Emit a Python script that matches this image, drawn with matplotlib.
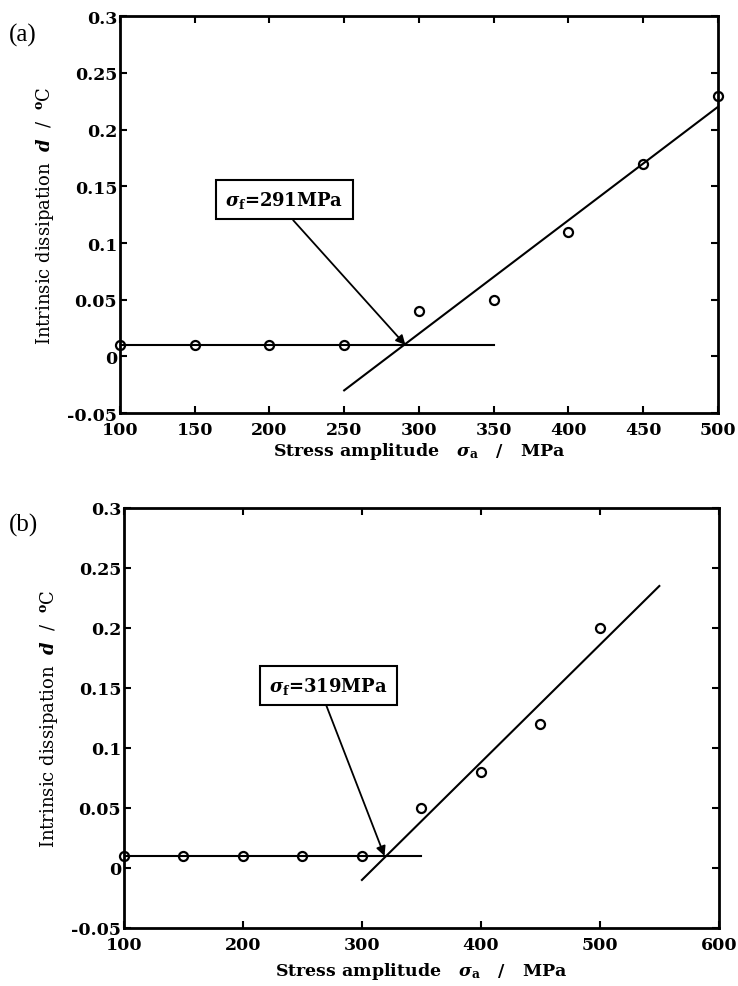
import matplotlib
matplotlib.use('Agg')
import matplotlib.pyplot as plt
from matplotlib.ticker import FormatStrFormatter

plt.rcParams['font.family'] = 'DejaVu Serif'
plt.rcParams['mathtext.fontset'] = 'custom'
plt.rcParams['mathtext.rm'] = 'DejaVu Serif'
plt.rcParams['mathtext.it'] = 'DejaVu Serif:italic:bold'
plt.rcParams['mathtext.bf'] = 'DejaVu Serif:bold'
plt.rcParams['axes.unicode_minus'] = False

# --- dados (a) ---
x_a = [100, 150, 200, 250, 300, 350, 400, 450, 500]
y_a = [0.01, 0.01, 0.01, 0.01, 0.04, 0.05, 0.11, 0.17, 0.23]
horiz_a_x = [100, 350]
horiz_a_y = [0.01, 0.01]
fit_a_x = [250, 500]
fit_a_y = [-0.03, 0.22]
sigma_a = 291

# --- dados (b) ---
x_b = [100, 150, 200, 250, 300, 350, 400, 450, 500]
y_b = [0.01, 0.01, 0.01, 0.01, 0.01, 0.05, 0.08, 0.12, 0.20]
horiz_b_x = [100, 350]
horiz_b_y = [0.01, 0.01]
fit_b_x = [300, 550]
fit_b_y = [-0.01, 0.235]
sigma_b = 319

yticks = [-0.05, 0, 0.05, 0.1, 0.15, 0.2, 0.25, 0.3]

fig = plt.figure(figsize=(7.38, 9.87), dpi=100)
ax_a = fig.add_axes([0.1626, 0.5805, 0.810, 0.402])
ax_b = fig.add_axes([0.168, 0.0588, 0.806, 0.4255])


def desenhar(ax, x, y, hx, hy, fx, fy, sig, xticks, box_xy, arrow_start, xpad, xlabelpad):
    ax.plot(hx, hy, color='black', lw=1.5)
    ax.plot(fx, fy, color='black', lw=1.5)
    ax.plot(x, y, 'o', mfc='none', mec='black', mew=1.6, ms=6.5, clip_on=False)
    ax.set_xlim(xticks[0], xticks[-1])
    ax.set_ylim(-0.05, 0.3)
    ax.set_xticks(xticks)
    ax.set_yticks(yticks)
    ax.yaxis.set_major_formatter(FormatStrFormatter('%g'))
    ax.tick_params(direction='in', top=True, right=True, length=5, width=1.5,
                   labelsize=12.5, pad=2)
    ax.tick_params(axis='x', pad=xpad)
    for lbl in ax.get_xticklabels() + ax.get_yticklabels():
        lbl.set_fontweight('bold')
    for s in ax.spines.values():
        s.set_linewidth(2)
    ax.set_xlabel(r'Stress amplitude   $\sigma_{\mathbf{a}}$   /   MPa',
                  fontsize=12.5, fontweight='bold', labelpad=xlabelpad)
    ax.set_ylabel(r'Intrinsic dissipation  $d$  /  $^{\mathbf{o}}$C',
                  fontsize=13, labelpad=8)
    ax.annotate(r'$\sigma_{\mathbf{f}}$=%dMPa' % sig, xy=(sig, 0.01),
                xytext=box_xy, fontsize=13, fontweight='bold',
                ha='center', va='center',
                bbox=dict(boxstyle='square,pad=0.5', fc='white', ec='black', lw=1.5),
                arrowprops=dict(arrowstyle='-|>', color='black', lw=1.3,
                                mutation_scale=14, shrinkA=0, shrinkB=0,
                                relpos=arrow_start))


desenhar(ax_a, x_a, y_a, horiz_a_x, horiz_a_y, fit_a_x, fit_a_y, sigma_a,
         [100, 150, 200, 250, 300, 350, 400, 450, 500], (210, 0.138), (0.5, 0.0), 5.5, 2)
desenhar(ax_b, x_b, y_b, horiz_b_x, horiz_b_y, fit_b_x, fit_b_y, sigma_b,
         [100, 200, 300, 400, 500, 600], (272, 0.152), (0.45, 0.0), 5.5, 5)

fig.text(0.012, 0.9645, '(a)', fontsize=18, va='center', family='Liberation Serif')
fig.text(0.012, 0.468, '(b)', fontsize=18, va='center', family='Liberation Serif')

fig.savefig('out.png', dpi=100, facecolor='white')
